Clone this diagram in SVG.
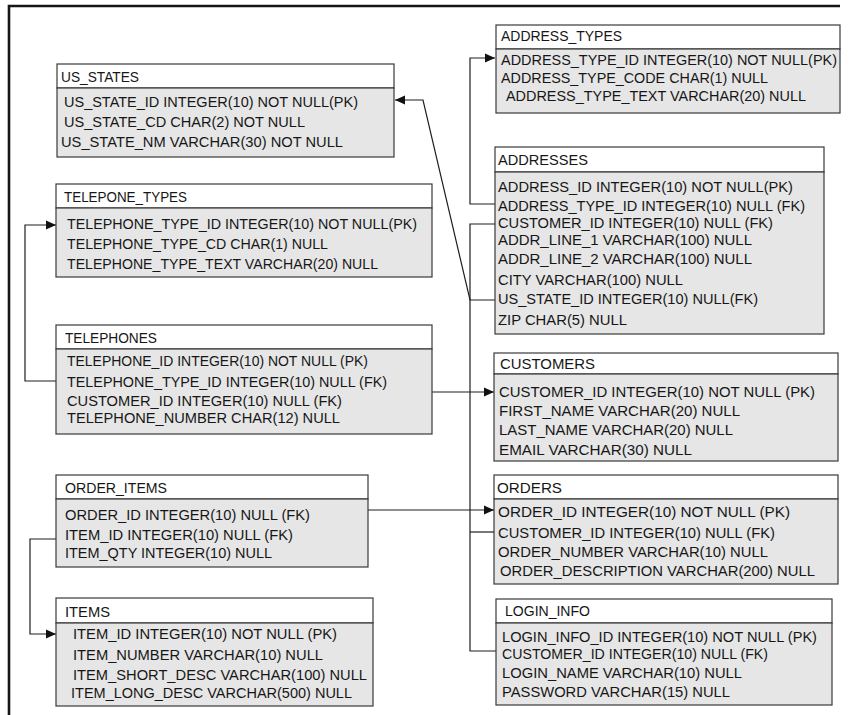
<svg xmlns="http://www.w3.org/2000/svg" width="850" height="715" viewBox="0 0 850 715">
  <defs>
    <style>
      .hdr { fill: #ffffff; stroke: #3a3a3a; stroke-width: 1.2; }
      .body { fill: #e6e6e6; stroke: #3a3a3a; stroke-width: 1.2; }
      text { font-family: "Liberation Sans", Arial, sans-serif; font-size: 15px; fill: #161616; }
      .conn { fill: none; stroke: #1e1e1e; stroke-width: 1.2; }
      .frame { fill: none; stroke: #161616; stroke-width: 2.6; }
    </style>
    <marker id="arrow" markerUnits="userSpaceOnUse" markerWidth="12" markerHeight="12" viewBox="0 0 12 12" refX="11" refY="6" orient="auto">
      <path d="M1,1.5 L11,6 L1,10.5 Z" fill="#111111"/>
    </marker>
  </defs>

  <rect width="850" height="715" fill="#ffffff"/>

  <!-- page frame: top and left rules -->
  <path class="frame" d="M9,715 V6 H840"/>

  <!-- relationships -->
  <g id="connectors">
    <path class="conn" d="M495,204 H470 V58 H495" marker-end="url(#arrow)"/>
    <path class="conn" d="M495,300 H470 L423,100 H395" marker-end="url(#arrow)"/>
    <path class="conn" d="M495,224 H470 V651 H496"/>
    <path class="conn" d="M470,532 H494"/>
    <path class="conn" d="M56,381 H25 V225 H56" marker-end="url(#arrow)"/>
    <path class="conn" d="M432,392 H494" marker-end="url(#arrow)"/>
    <path class="conn" d="M56,539 H30 V634 H56" marker-end="url(#arrow)"/>
    <path class="conn" d="M368,510 H494" marker-end="url(#arrow)"/>
  </g>

  <g id="us_states">
    <rect class="hdr" x="57" y="64" width="337" height="24"/>
    <rect class="body" x="57" y="88" width="337" height="69"/>
    <text x="61" y="82" textLength="78" lengthAdjust="spacingAndGlyphs">US_STATES</text>
    <text x="64" y="107" textLength="294" lengthAdjust="spacingAndGlyphs">US_STATE_ID INTEGER(10) NOT NULL(PK)</text>
    <text x="64" y="127" textLength="241" lengthAdjust="spacingAndGlyphs">US_STATE_CD CHAR(2) NOT NULL</text>
    <text x="61" y="147" textLength="282" lengthAdjust="spacingAndGlyphs">US_STATE_NM VARCHAR(30) NOT NULL</text>
  </g>

  <g id="address_types">
    <rect class="hdr" x="496" y="25" width="344" height="24"/>
    <rect class="body" x="496" y="49" width="344" height="64"/>
    <text x="501" y="41" textLength="121" lengthAdjust="spacingAndGlyphs">ADDRESS_TYPES</text>
    <text x="501" y="65" textLength="336" lengthAdjust="spacingAndGlyphs">ADDRESS_TYPE_ID INTEGER(10) NOT NULL(PK)</text>
    <text x="501" y="83" textLength="267" lengthAdjust="spacingAndGlyphs">ADDRESS_TYPE_CODE CHAR(1) NULL</text>
    <text x="506" y="101" textLength="300" lengthAdjust="spacingAndGlyphs">ADDRESS_TYPE_TEXT VARCHAR(20) NULL</text>
  </g>

  <g id="addresses">
    <rect class="hdr" x="495" y="147" width="329" height="25"/>
    <rect class="body" x="495" y="172" width="329" height="162"/>
    <text x="498" y="165" textLength="90" lengthAdjust="spacingAndGlyphs">ADDRESSES</text>
    <text x="498" y="192" textLength="295" lengthAdjust="spacingAndGlyphs">ADDRESS_ID INTEGER(10) NOT NULL(PK)</text>
    <text x="498" y="211" textLength="307" lengthAdjust="spacingAndGlyphs">ADDRESS_TYPE_ID INTEGER(10) NULL (FK)</text>
    <text x="498" y="228" textLength="275" lengthAdjust="spacingAndGlyphs">CUSTOMER_ID INTEGER(10) NULL (FK)</text>
    <text x="498" y="245" textLength="254" lengthAdjust="spacingAndGlyphs">ADDR_LINE_1 VARCHAR(100) NULL</text>
    <text x="498" y="264" textLength="254" lengthAdjust="spacingAndGlyphs">ADDR_LINE_2 VARCHAR(100) NULL</text>
    <text x="498" y="285" textLength="185" lengthAdjust="spacingAndGlyphs">CITY VARCHAR(100) NULL</text>
    <text x="498" y="304" textLength="260" lengthAdjust="spacingAndGlyphs">US_STATE_ID INTEGER(10) NULL(FK)</text>
    <text x="498" y="325" textLength="129" lengthAdjust="spacingAndGlyphs">ZIP CHAR(5) NULL</text>
  </g>

  <g id="telepone_types">
    <rect class="hdr" x="56" y="184" width="376" height="24"/>
    <rect class="body" x="56" y="208" width="376" height="69"/>
    <text x="64" y="202" textLength="123" lengthAdjust="spacingAndGlyphs">TELEPONE_TYPES</text>
    <text x="67" y="229" textLength="350" lengthAdjust="spacingAndGlyphs">TELEPHONE_TYPE_ID INTEGER(10) NOT NULL(PK)</text>
    <text x="67" y="249" textLength="261" lengthAdjust="spacingAndGlyphs">TELEPHONE_TYPE_CD CHAR(1) NULL</text>
    <text x="67" y="269" textLength="311" lengthAdjust="spacingAndGlyphs">TELEPHONE_TYPE_TEXT VARCHAR(20) NULL</text>
  </g>

  <g id="telephones">
    <rect class="hdr" x="56" y="325" width="376" height="24"/>
    <rect class="body" x="56" y="349" width="376" height="85"/>
    <text x="65" y="343" textLength="92" lengthAdjust="spacingAndGlyphs">TELEPHONES</text>
    <text x="67" y="366" textLength="301" lengthAdjust="spacingAndGlyphs">TELEPHONE_ID INTEGER(10) NOT NULL (PK)</text>
    <text x="67" y="387" textLength="320" lengthAdjust="spacingAndGlyphs">TELEPHONE_TYPE_ID INTEGER(10) NULL (FK)</text>
    <text x="67" y="406" textLength="275" lengthAdjust="spacingAndGlyphs">CUSTOMER_ID INTEGER(10) NULL (FK)</text>
    <text x="67" y="423" textLength="273" lengthAdjust="spacingAndGlyphs">TELEPHONE_NUMBER CHAR(12) NULL</text>
  </g>

  <g id="customers">
    <rect class="hdr" x="494" y="353" width="344" height="21"/>
    <rect class="body" x="494" y="374" width="344" height="87"/>
    <text x="500" y="369" textLength="95" lengthAdjust="spacingAndGlyphs">CUSTOMERS</text>
    <text x="499" y="397" textLength="316" lengthAdjust="spacingAndGlyphs">CUSTOMER_ID INTEGER(10) NOT NULL (PK)</text>
    <text x="499" y="416" textLength="241" lengthAdjust="spacingAndGlyphs">FIRST_NAME VARCHAR(20) NULL</text>
    <text x="499" y="435" textLength="234" lengthAdjust="spacingAndGlyphs">LAST_NAME VARCHAR(20) NULL</text>
    <text x="499" y="455" textLength="193" lengthAdjust="spacingAndGlyphs">EMAIL VARCHAR(30) NULL</text>
  </g>

  <g id="order_items">
    <rect class="hdr" x="56" y="475" width="312" height="24"/>
    <rect class="body" x="56" y="499" width="312" height="68"/>
    <text x="65" y="493" textLength="102" lengthAdjust="spacingAndGlyphs">ORDER_ITEMS</text>
    <text x="65" y="520" textLength="245" lengthAdjust="spacingAndGlyphs">ORDER_ID INTEGER(10) NULL (FK)</text>
    <text x="65" y="540" textLength="228" lengthAdjust="spacingAndGlyphs">ITEM_ID INTEGER(10) NULL (FK)</text>
    <text x="65" y="558" textLength="207" lengthAdjust="spacingAndGlyphs">ITEM_QTY INTEGER(10) NULL</text>
  </g>

  <g id="items">
    <rect class="hdr" x="56" y="598" width="317" height="25"/>
    <rect class="body" x="56" y="623" width="317" height="83"/>
    <text x="65" y="617" textLength="45" lengthAdjust="spacingAndGlyphs">ITEMS</text>
    <text x="73" y="639" textLength="264" lengthAdjust="spacingAndGlyphs">ITEM_ID INTEGER(10) NOT NULL (PK)</text>
    <text x="73" y="660" textLength="250" lengthAdjust="spacingAndGlyphs">ITEM_NUMBER VARCHAR(10) NULL</text>
    <text x="73" y="680" textLength="294" lengthAdjust="spacingAndGlyphs">ITEM_SHORT_DESC VARCHAR(100) NULL</text>
    <text x="71" y="698" textLength="281" lengthAdjust="spacingAndGlyphs">ITEM_LONG_DESC VARCHAR(500) NULL</text>
  </g>

  <g id="orders">
    <rect class="hdr" x="494" y="475" width="344" height="24"/>
    <rect class="body" x="494" y="499" width="344" height="85"/>
    <text x="497" y="493" textLength="65" lengthAdjust="spacingAndGlyphs">ORDERS</text>
    <text x="498" y="517" textLength="292" lengthAdjust="spacingAndGlyphs">ORDER_ID INTEGER(10) NOT NULL (PK)</text>
    <text x="498" y="538" textLength="277" lengthAdjust="spacingAndGlyphs">CUSTOMER_ID INTEGER(10) NULL (FK)</text>
    <text x="498" y="557" textLength="270" lengthAdjust="spacingAndGlyphs">ORDER_NUMBER VARCHAR(10) NULL</text>
    <text x="500" y="576" textLength="315" lengthAdjust="spacingAndGlyphs">ORDER_DESCRIPTION VARCHAR(200) NULL</text>
  </g>

  <g id="login_info">
    <rect class="hdr" x="496" y="599" width="336" height="24"/>
    <rect class="body" x="496" y="623" width="336" height="82"/>
    <text x="505" y="616" textLength="85" lengthAdjust="spacingAndGlyphs">LOGIN_INFO</text>
    <text x="502" y="642" textLength="315" lengthAdjust="spacingAndGlyphs">LOGIN_INFO_ID INTEGER(10) NOT NULL (PK)</text>
    <text x="502" y="659" textLength="266" lengthAdjust="spacingAndGlyphs">CUSTOMER_ID INTEGER(10) NULL (FK)</text>
    <text x="502" y="678" textLength="240" lengthAdjust="spacingAndGlyphs">LOGIN_NAME VARCHAR(10) NULL</text>
    <text x="502" y="697" textLength="228" lengthAdjust="spacingAndGlyphs">PASSWORD VARCHAR(15) NULL</text>
  </g>
</svg>
